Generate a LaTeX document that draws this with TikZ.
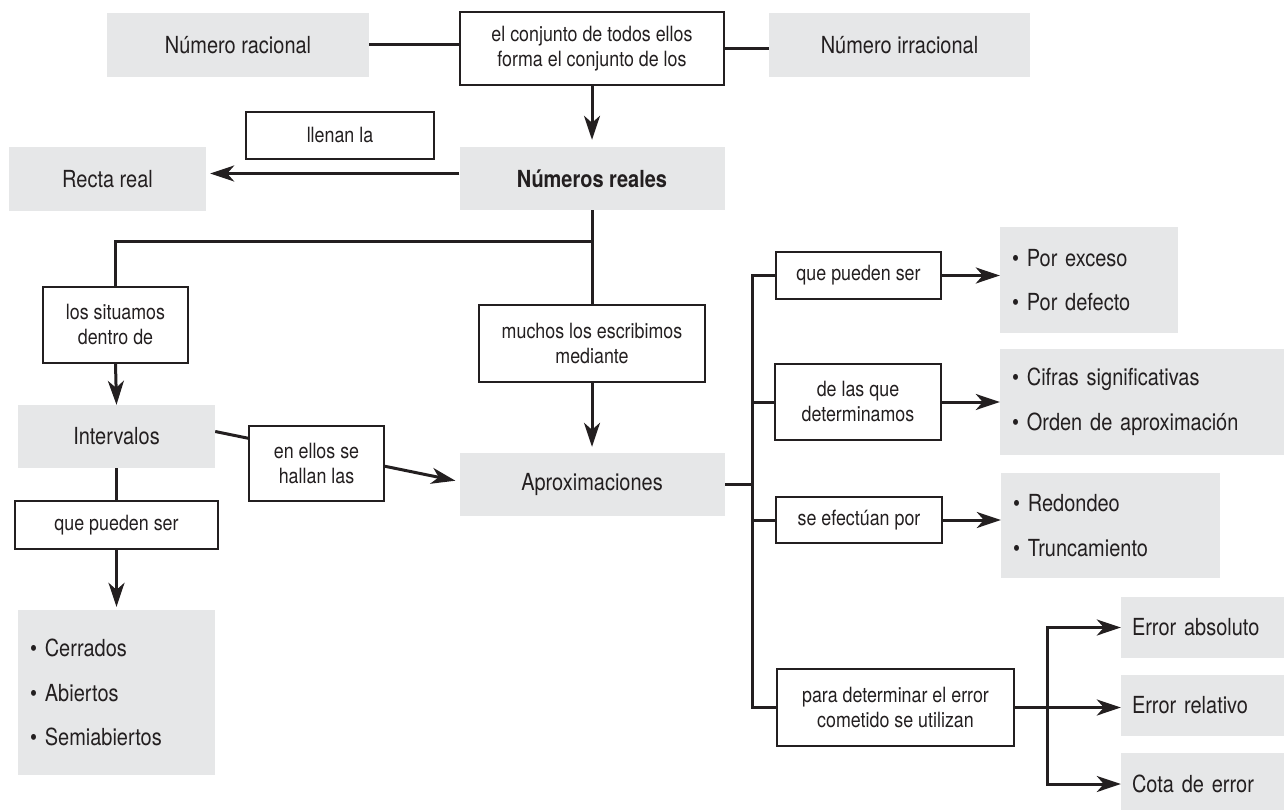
\documentclass[tikz,border=0pt]{standalone}
\usepackage{fontspec}
\setmainfont{TeX Gyre Heros}[FakeStretch=0.85]
\usetikzlibrary{arrows.meta,backgrounds}
\definecolor{boxgray}{HTML}{E6E7E8}
\definecolor{ink}{HTML}{231F20}
\newcommand\gtxt{\fontsize{23.5}{44.5}\selectfont}
\newcommand\wtxt{\fontsize{21}{25}\selectfont}
\begin{document}
\begin{tikzpicture}[x=1pt,y=-1pt,
  gbox/.style={fill=boxgray, inner sep=0pt, font=\gtxt, text=ink, align=center},
  glist/.style={gbox, align=left, inner xsep=12pt},
  wbox/.style={draw=ink, line width=1.5pt, fill=white, inner sep=0pt, font=\wtxt, text=ink, align=center},
  conn/.style={draw=ink, line width=3pt, line join=miter},
  arr/.style={conn, -{Stealth[length=24pt,width=16pt,inset=7pt]}},
]
\useasboundingbox (0,0) rectangle (1284,810);

% top row
\node[gbox, minimum width=262pt, minimum height=64pt] (rac) at (238,45) {Número racional};
\node[wbox, minimum width=264pt, minimum height=73pt] (top) at (592,48.5) {el conjunto de todos ellos\\forma el conjunto de los};
\node[gbox, minimum width=261pt, minimum height=64pt] (irr) at (899.5,45) {Número irracional};

% second row
\node[wbox, minimum width=188pt, minimum height=47pt] (llen) at (340,135.5) {llenan la};
\node[gbox, minimum width=197pt, minimum height=64pt] (recta) at (107.5,179) {Recta real};
\node[gbox, minimum width=265pt, minimum height=63pt, font=\gtxt\bfseries] (reales) at (592,178.5) {Números reales};

% left branch
\node[wbox, minimum width=145pt, minimum height=76pt] (sit) at (115.5,325) {los situamos\\dentro de};
\node[gbox, minimum width=197pt, minimum height=63pt] (inter) at (116.5,436.5) {Intervalos};
\node[wbox, minimum width=203pt, minimum height=48pt] (qps) at (116.5,525) {que pueden ser};
\node[glist, text width=173pt, minimum height=165pt] (cerr) at (116.5,692.5) {\textbullet\ Cerrados\\\textbullet\ Abiertos\\\textbullet\ Semiabiertos};

% middle
\node[wbox, minimum width=135pt, minimum height=75pt] (enellos) at (316.5,463.5) {en ellos se\\hallan las};
\node[wbox, minimum width=226pt, minimum height=77pt] (muchos) at (592,343.5) {muchos los escribimos\\mediante};
\node[gbox, minimum width=265pt, minimum height=63pt] (aprox) at (592,484.5) {Aproximaciones};

% right branch
\node[wbox, minimum width=165pt, minimum height=47pt] (qpr) at (858.5,275.5) {que pueden ser};
\node[glist, text width=154pt, minimum height=106pt] (exc) at (1089,280) {\textbullet\ Por exceso\\\textbullet\ Por defecto};
\node[wbox, minimum width=166pt, minimum height=76pt] (det) at (858,402) {de las que\\determinamos};
\node[glist, text width=260pt, minimum height=106pt] (cif) at (1142,402) {\textbullet\ Cifras significativas\\\textbullet\ Orden de aproximación};
\node[wbox, minimum width=166pt, minimum height=46pt] (efe) at (859,520) {se efectúan por};
\node[glist, text width=195pt, minimum height=105pt] (red) at (1110.5,525.5) {\textbullet\ Redondeo\\\textbullet\ Truncamiento};
\node[wbox, minimum width=237pt, minimum height=77pt] (para) at (895.5,707.5) {para determinar el error\\cometido se utilizan};
\node[glist, inner xsep=11pt, text width=141pt, minimum height=61pt] (eabs) at (1202.5,627.5) {Error absoluto};
\node[glist, inner xsep=11pt, text width=141pt, minimum height=61pt] (erel) at (1202.5,705.5) {Error relativo};
\node[glist, inner xsep=11pt, text width=141pt, minimum height=62pt] (cota) at (1202.5,784) {Cota de error};

\coordinate (j1) at (592,242);
\coordinate (vx) at (752,0);
\coordinate (ex) at (1047,0);

\begin{scope}[on background layer]
\draw[conn] (rac.east) -- (rac.east -| top.west);
\draw[conn] (top.east) -- (top.east -| irr.west);
\draw[arr, shorten >=7pt] (top.south) -- (reales.north);
\draw[arr, shorten >=4pt] ([yshift=5pt]reales.west) -- ([yshift=5pt]reales.west -| recta.east);
\draw[conn] (reales.south) -- (j1) -| (sit.north);
\draw[conn] (j1) -- (muchos.north);
\draw[arr, shorten >=6pt] (muchos.south) -- (aprox.north);
\draw[arr] (sit.south) -- (inter.north);
\draw[conn] (inter.south) -- (qps.north);
\draw[arr, shorten >=3pt] (qps.south) -- (cerr.north);
\draw[arr, shorten >=4pt] ([yshift=5pt]inter.east) -- ([yshift=3pt]aprox.west);
\draw[conn] (aprox.east) -- (aprox.east -| vx);
\draw[conn] (qpr.west) -- (qpr.west -| vx) -- (para.west -| vx) -- (para.west);
\draw[conn] (det.west) -- (det.west -| vx);
\draw[conn] (efe.west) -- (efe.west -| vx);
\draw[arr] (qpr.east) -- (qpr.east -| exc.west);
\draw[arr] (det.east) -- (det.east -| cif.west);
\draw[arr] (efe.east) -- (efe.east -| red.west);
\draw[arr] (para.east) -- (para.east -| erel.west);
\draw[arr] (cota.west -| ex) -- (eabs.west -| ex) -- (eabs.west);
\draw[arr] (eabs.west -| ex) -- (cota.west -| ex) -- (cota.west);
\end{scope}
\end{tikzpicture}
\end{document}
